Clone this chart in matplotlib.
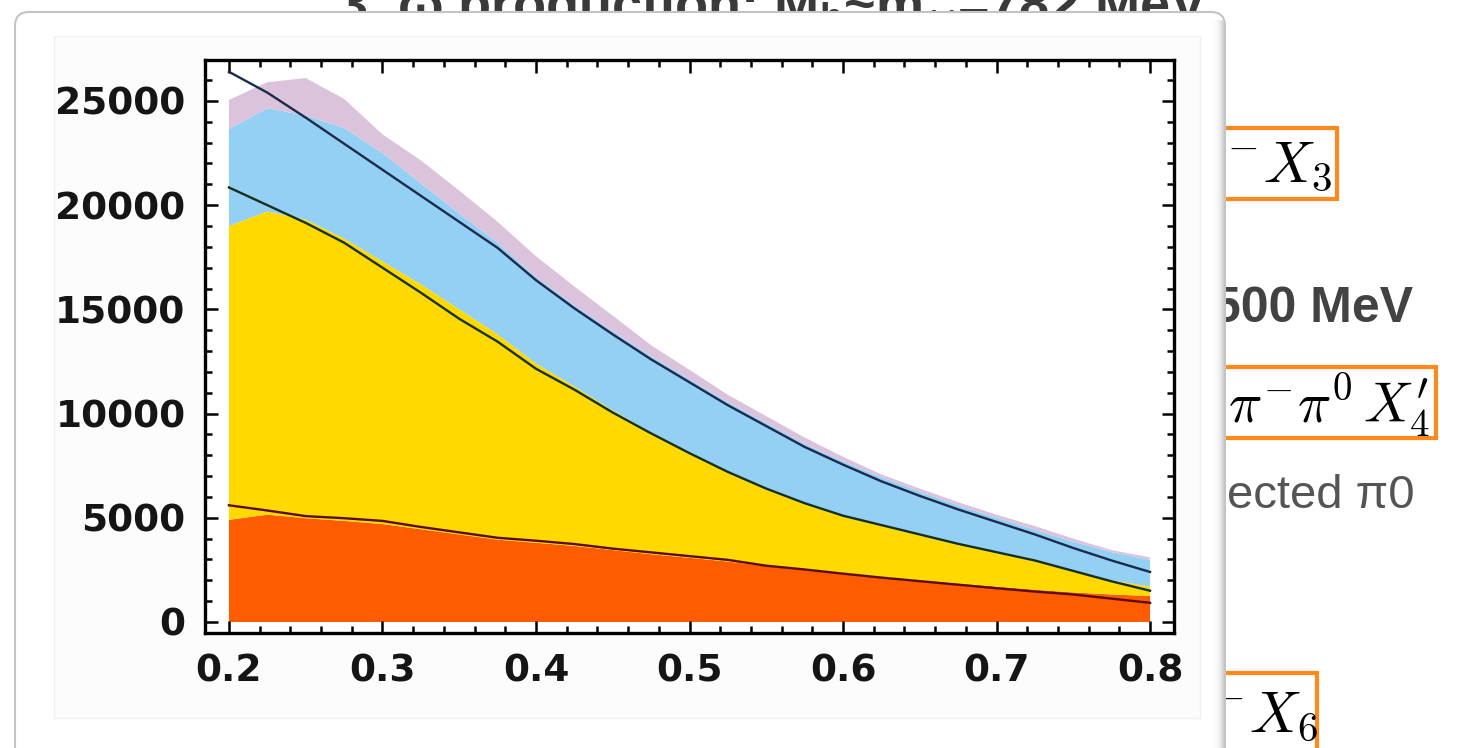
import numpy as np
import matplotlib.pyplot as plt
from matplotlib.patches import FancyBboxPatch, Rectangle
from matplotlib.ticker import MultipleLocator

# spectrum sampled every 0.025 between 0.2 and 0.8
x_vals = [0.2, 0.225, 0.25, 0.275, 0.3, 0.325, 0.35, 0.375, 0.4, 0.425, 0.45, 0.475,
          0.5, 0.525, 0.55, 0.575, 0.6, 0.625, 0.65, 0.675, 0.7, 0.725, 0.75, 0.775, 0.8]

# stacked components (counts per bin)
orange_counts = [4900, 5150, 4980, 4850, 4700, 4450, 4200, 3950, 3800, 3650, 3450, 3250,
                 3080, 2900, 2680, 2500, 2330, 2150, 2000, 1850, 1700, 1550, 1420, 1320, 1250]
yellow_counts = [14100, 14550, 14320, 13550, 12600, 11750, 10800, 9850, 8600, 7650, 6700, 5850,
                 5020, 4250, 3670, 3150, 2720, 2450, 2150, 1850, 1600, 1350, 1030, 680, 450]
blue_counts = [4650, 4950, 5000, 5300, 5200, 4850, 4600, 4400, 4150, 3900, 3800, 3650,
               3550, 3400, 3200, 2900, 2650, 2350, 2100, 1900, 1700, 1520, 1400, 1350, 1280]
pink_counts = [1400, 1250, 1800, 1400, 900, 1100, 1100, 1000, 1000, 900, 750, 530,
               450, 350, 330, 300, 230, 130, 150, 150, 150, 180, 150, 100, 120]

# fitted curves
fit_total = [26400, 25400, 24200, 22950, 21700, 20450, 19200, 17950, 16400, 15050, 13800, 12600,
             11500, 10400, 9400, 8400, 7550, 6750, 6050, 5400, 4800, 4200, 3550, 2950, 2400]
fit_mid = [20850, 20000, 19150, 18200, 17000, 15800, 14550, 13450, 12150, 11150, 10050, 9050,
           8100, 7200, 6400, 5700, 5100, 4650, 4200, 3750, 3350, 2950, 2450, 1950, 1500]
fit_low = [5600, 5350, 5080, 4980, 4850, 4560, 4300, 4040, 3900, 3740, 3520, 3340,
           3160, 2980, 2700, 2520, 2320, 2130, 1960, 1790, 1620, 1460, 1320, 1120, 920]

x_ticks = [0.2, 0.3, 0.4, 0.5, 0.6, 0.7, 0.8]
y_ticks = [0, 5000, 10000, 15000, 20000, 25000]

W, H = 1462, 748
fig = plt.figure(figsize=(W / 100, H / 100), dpi=100)
fig.patch.set_facecolor('white')

# slide underneath, in pixel units
bg = fig.add_axes([0, 0, 1, 1])
bg.axis('off')

narrow = ['Liberation Sans Narrow', 'Liberation Sans', 'DejaVu Sans']
bg.text(772, 22, r'3. ω production: M$_{\mathregular{h}}$~m$_{\omega}$=782 MeV',
        ha='center', va='baseline', fontsize=39, fontweight='bold',
        color='#3a3a3a', family=narrow, zorder=1)

orange = '#ff8a1c'
for x0, y0, x1, y1 in [(1150, 128, 1337, 199), (1150, 367, 1436, 438), (1150, 673, 1317, 770)]:
    bg.add_patch(Rectangle((x0, y0), x1 - x0, y1 - y0, fill=False, ec=orange, lw=3, zorder=1))

bg.text(1332, 182, r'$\pi^{-}X_3$', ha='right', va='baseline', fontsize=42,
        math_fontfamily='cm', zorder=1)
bg.text(1430, 422, r'$\pi^{-}\pi^{0}\,X_4^{\prime}$', ha='right', va='baseline', fontsize=40,
        math_fontfamily='cm', zorder=1)
bg.text(1318, 732, r'$\pi^{-}X_6$', ha='right', va='baseline', fontsize=42,
        math_fontfamily='cm', zorder=1)
bg.text(1413, 322, '500 MeV', ha='right', va='baseline', fontsize=36, fontweight='bold',
        color='#424242', family=['Liberation Sans', 'DejaVu Sans'], zorder=1)
bg.text(1227, 508, 'ected π0', ha='left', va='baseline', fontsize=34,
        color='#555555', family=narrow, zorder=1)

# card holding the plot
bg.add_patch(FancyBboxPatch((15, 12), 1210, 780, boxstyle='round,pad=0,rounding_size=14',
                            fc='white', ec='#c4c4c4', lw=1.5, zorder=5))
grad = np.linspace(0, 1, 30)[None, :] ** 2
bg.imshow(grad, cmap='Greys', vmin=0, vmax=3.2, extent=(1211, 1224, 760, 20),
          aspect='auto', zorder=6)
bg.add_patch(Rectangle((54, 36), 1146, 682, fc='#fcfcfc', ec='#f0f0f0', lw=1, zorder=6))
bg.set_xlim(0, W)
bg.set_ylim(H, 0)

ax = fig.add_axes([205 / W, (H - 633) / H, 969 / W, 573 / H], zorder=10)
ax.set_facecolor('white')
ax.stackplot(x_vals, orange_counts, yellow_counts, blue_counts, pink_counts,
             colors=['#ff5b00', '#ffd900', '#93d0f4', '#dcc3dc'], linewidth=0)
ax.plot(x_vals, fit_total, color='#1c2a4c', lw=1.7)
ax.plot(x_vals, fit_mid, color='#15301f', lw=1.7)
ax.plot(x_vals, fit_low, color='#5a0c00', lw=1.7)

ax.set_xlim(0.1844, 0.8156)
ax.set_ylim(-528, 26965)
ax.set_xticks(x_ticks)
ax.set_xticklabels([f'{t:.1f}' for t in x_ticks])
ax.set_yticks(y_ticks)
ax.set_yticklabels([str(t) for t in y_ticks])
ax.xaxis.set_minor_locator(MultipleLocator(0.02))
ax.yaxis.set_minor_locator(MultipleLocator(1000))
ax.tick_params(which='both', direction='in', top=True, right=True, width=1.8, color='black')
ax.tick_params(which='major', length=9)
ax.tick_params(which='minor', length=5)
ax.tick_params(axis='y', pad=14)
ax.tick_params(axis='x', pad=15)
for lab in ax.get_xticklabels() + ax.get_yticklabels():
    lab.set_fontsize(27)
    lab.set_fontweight('bold')
    lab.set_color('#151515')
for sp in ax.spines.values():
    sp.set_linewidth(2.4)

fig.savefig('out.png', dpi=100)
